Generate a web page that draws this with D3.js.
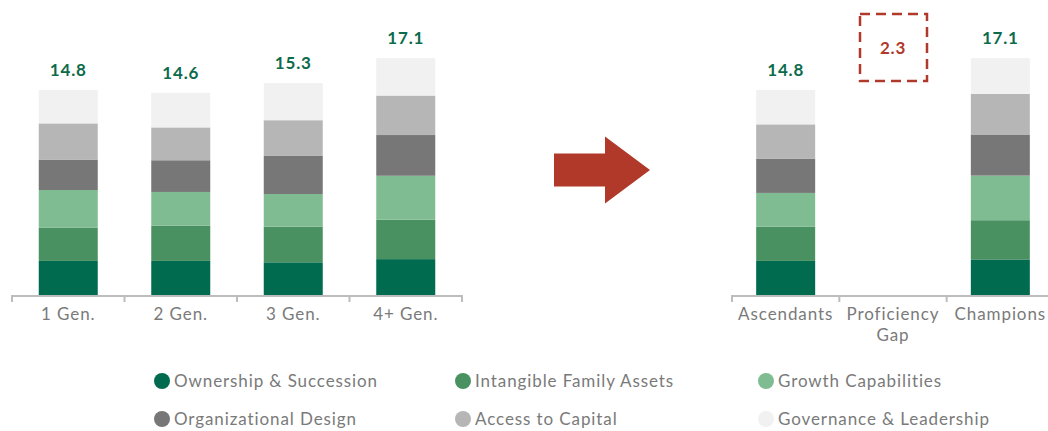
<!DOCTYPE html>
<html>
<head>
<meta charset="utf-8">
<script src="https://cdn.jsdelivr.net/npm/d3@7"></script>
<style>
  html, body { margin: 0; padding: 0; background: #fff; }
  svg { display: block; font-family: Lato, "Open Sans", sans-serif; }
</style>
</head>
<body>
<svg id="chart"></svg>
<script>
const segments = ["Ownership & Succession", "Intangible Family Assets", "Growth Capabilities",
  "Organizational Design", "Access to Capital", "Governance & Leadership"];
const colors = ["#006b4e", "#4a9162", "#7fbc91", "#777777", "#b6b6b6", "#f1f1f1"];

const genCategories = ["1 Gen.", "2 Gen.", "3 Gen.", "4+ Gen."];
const genTotals = [14.8, 14.6, 15.3, 17.1];
const genValues = [
  [2.46, 2.41, 2.71, 2.20, 2.61, 2.41],
  [2.46, 2.54, 2.44, 2.29, 2.37, 2.50],
  [2.36, 2.57, 2.36, 2.75, 2.58, 2.68],
  [2.59, 2.85, 3.17, 2.94, 2.85, 2.70]
];

const groupCategories = ["Ascendants", "Proficiency Gap", "Champions"];
const groupTotals = [14.8, null, 17.1];
const groupValues = [
  [2.46, 2.48, 2.43, 2.48, 2.47, 2.48],
  null,
  [2.57, 2.83, 3.22, 2.97, 2.93, 2.58]
];
const gapValue = 2.3;

const W = 1048, H = 431;
const svg = d3.select("#chart").attr("width", W).attr("height", H);

const baseY = 295;
const y = d3.scaleLinear().domain([0, 17.1]).range([baseY, baseY - 17.1 * 13.85]);
const barW = 59;
const green = "#0c6b4b";
const red = "#b1392b";

function drawPanel(cats, values, totals, x0, x1, axisEnd) {
  const x = d3.scaleBand().domain(cats).range([x0, x1]).padding(0);
  const g = svg.append("g");

  // axis
  g.append("line")
    .attr("x1", x0).attr("x2", axisEnd)
    .attr("y1", baseY + 1).attr("y2", baseY + 1)
    .attr("stroke", "#bdbdbd").attr("stroke-width", 2);
  const ticks = cats.map(c => x(c));
  ticks.push(x1);
  g.selectAll(".tick").data(ticks.filter(t => t < W)).enter().append("line")
    .attr("x1", d => d).attr("x2", d => d)
    .attr("y1", baseY).attr("y2", baseY + 7)
    .attr("stroke", "#bdbdbd").attr("stroke-width", 2);

  cats.forEach((c, i) => {
    const cx = x(c) + x.bandwidth() / 2;
    if (values[i]) {
      const stack = d3.stack().keys(d3.range(6))([values[i]]);
      g.selectAll(null).data(stack).enter().append("rect")
        .attr("x", cx - barW / 2)
        .attr("width", barW)
        .attr("y", d => y(d[0][1]))
        .attr("height", d => y(d[0][0]) - y(d[0][1]))
        .attr("fill", (d, k) => colors[k]);
      g.append("text")
        .attr("x", cx).attr("y", y(totals[i]) - 14)
        .attr("text-anchor", "middle")
        .attr("font-size", 17).attr("font-weight", 700)
        .attr("fill", green)
        .style("letter-spacing", "0.8px")
        .text(totals[i].toFixed(1));
    }
    const words = c === "Proficiency Gap" ? ["Proficiency", "Gap"] : [c];
    words.forEach((w, j) => {
      g.append("text")
        .attr("x", cx).attr("y", baseY + 25 + j * 21)
        .attr("text-anchor", "middle")
        .attr("font-size", 17)
        .attr("fill", "#7a7a7a")
        .style("letter-spacing", "0.9px")
        .text(w);
    });
  });
  return x;
}

drawPanel(genCategories, genValues, genTotals, 12, 462, 462);
const xr = drawPanel(groupCategories, groupValues, groupTotals, 732, 1054, W);

// gap annotation
const gx = xr("Proficiency Gap") + xr.bandwidth() / 2;
const gy = 48;
svg.append("rect")
  .attr("x", gx - 33).attr("y", gy - 34)
  .attr("width", 67).attr("height", 67)
  .attr("fill", "none").attr("stroke", red)
  .attr("stroke-width", 2.5).attr("stroke-dasharray", "10,6");
svg.append("text")
  .attr("x", gx).attr("y", gy + 6)
  .attr("text-anchor", "middle")
  .attr("font-size", 17).attr("font-weight", 700)
  .attr("fill", red)
  .style("letter-spacing", "0.8px")
  .text(gapValue.toFixed(1));

// arrow
const ax = 554, ay = 170, bodyL = 51, bodyH = 33, headL = 45, headH = 67;
svg.append("path")
  .attr("d", d3.line()([
    [ax, ay - bodyH / 2], [ax + bodyL, ay - bodyH / 2], [ax + bodyL, ay - headH / 2],
    [ax + bodyL + headL, ay], [ax + bodyL, ay + headH / 2], [ax + bodyL, ay + bodyH / 2],
    [ax, ay + bodyH / 2]
  ]) + "Z")
  .attr("fill", "#b0392a");

// legend
const legX = [162, 463, 766];
const legY = [381, 419];
const leg = svg.append("g");
segments.forEach((s, i) => {
  const cx = legX[i % 3], cy = legY[Math.floor(i / 3)];
  leg.append("circle").attr("cx", cx).attr("cy", cy).attr("r", 8).attr("fill", colors[i]);
  leg.append("text")
    .attr("x", cx + 12).attr("y", cy + 6)
    .attr("font-size", 17)
    .attr("fill", "#7a7a7a")
    .style("letter-spacing", "0.9px")
    .text(s);
});
</script>
</body>
</html>
